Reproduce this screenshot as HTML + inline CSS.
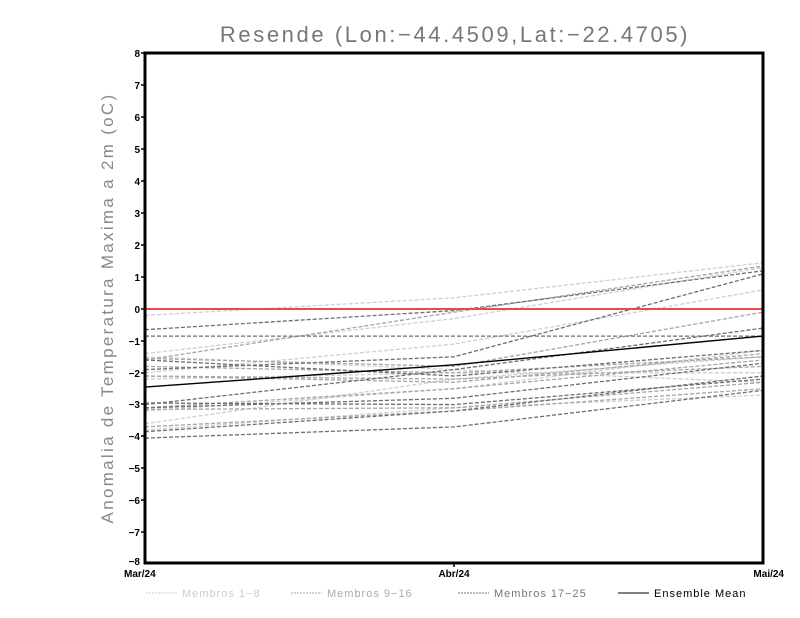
<!DOCTYPE html>
<html><head><meta charset="utf-8"><style>
html,body{margin:0;padding:0;background:#fff}
svg{display:block}
.t{font-family:"Liberation Sans",sans-serif;font-weight:bold;font-size:10px;fill:#000}
</style></head><body>
<svg width="800" height="618" viewBox="0 0 800 618">
<rect width="800" height="618" fill="#fff"/>
<text x="455" y="42" text-anchor="middle" font-family="Liberation Sans, sans-serif" font-size="22" fill="#777" letter-spacing="2.6">Resende (Lon:−44.4509,Lat:−22.4705)</text>
<text transform="translate(113,308) rotate(-90)" text-anchor="middle" font-family="Liberation Sans, sans-serif" font-size="17" fill="#888" letter-spacing="2.3">Anomalia de Temperatura Maxima a 2m (oC)</text>
<g fill="none" stroke-width="1.3" stroke-dasharray="4,2">
<g stroke="#cfcfcf">
<polyline points="145,315.4 454,297.8 763,262.8"/>
<polyline points="145,353.6 454,318.6 763,267.6"/>
<polyline points="145,372.8 454,344.1 763,289.9"/>
<polyline points="145,411 454,388.7 763,350.4"/>
<polyline points="145,423.8 454,379.1 763,356.8"/>
<polyline points="145,379.1 454,372.8 763,372.8"/>
<polyline points="145,430.1 454,407.8 763,395.1"/>
<polyline points="145,356.8 454,369.6 763,382.3"/>
</g>
<g stroke="#a5a5a5">
<polyline points="145,360 454,312.2 763,266"/>
<polyline points="145,358.4 454,366.4 763,312.2"/>
<polyline points="145,376 454,379.1 763,366.4"/>
<polyline points="145,407.8 454,388.7 763,360"/>
<polyline points="145,409.4 454,407.8 763,382.3"/>
<polyline points="145,376 454,382.3 763,353.6"/>
<polyline points="145,426.9 454,411 763,388.7"/>
<polyline points="145,366.4 454,372.8 763,356.8"/>
</g>
<g stroke="#6e6e6e">
<polyline points="145,329.7 454,310.6 763,270.8"/>
<polyline points="145,336.1 454,336.1 763,336.1"/>
<polyline points="145,404.6 454,369.6 763,328.1"/>
<polyline points="145,369.6 454,356.8 763,273.9"/>
<polyline points="145,403 454,404.6 763,379.1"/>
<polyline points="145,431.7 454,411 763,376"/>
<polyline points="145,438.1 454,426.9 763,390.3"/>
<polyline points="145,360 454,376 763,350.4"/>
<polyline points="145,407.8 454,398.3 763,363.2"/>
</g>
</g>
<line x1="145" y1="309" x2="763" y2="309" stroke="#f04848" stroke-width="2"/>
<polyline points="145,387.1 454,364.8 763,336.1" fill="none" stroke="#000" stroke-width="1.4"/>
<rect x="145" y="53" width="618" height="510" fill="none" stroke="#000" stroke-width="3"/>
<g stroke="#000" stroke-width="1.5">
<line x1="141" y1="53" x2="145" y2="53"/><line x1="141" y1="85" x2="145" y2="85"/><line x1="141" y1="117" x2="145" y2="117"/><line x1="141" y1="149" x2="145" y2="149"/><line x1="141" y1="181" x2="145" y2="181"/><line x1="141" y1="213" x2="145" y2="213"/><line x1="141" y1="245" x2="145" y2="245"/><line x1="141" y1="277" x2="145" y2="277"/><line x1="141" y1="309" x2="145" y2="309"/><line x1="141" y1="341" x2="145" y2="341"/><line x1="141" y1="373" x2="145" y2="373"/><line x1="141" y1="404" x2="145" y2="404"/><line x1="141" y1="436" x2="145" y2="436"/><line x1="141" y1="468" x2="145" y2="468"/><line x1="141" y1="500" x2="145" y2="500"/><line x1="141" y1="532" x2="145" y2="532"/>
<line x1="454" y1="563" x2="454" y2="567"/>
</g>
<g class="t" text-anchor="end">
<text x="140" y="57">8</text><text x="140" y="89">7</text><text x="140" y="121">6</text><text x="140" y="153">5</text><text x="140" y="185">4</text><text x="140" y="217">3</text><text x="140" y="249">2</text><text x="140" y="281">1</text><text x="140" y="313">0</text><text x="140" y="345">−1</text><text x="140" y="377">−2</text><text x="140" y="408">−3</text><text x="140" y="440">−4</text><text x="140" y="472">−5</text><text x="140" y="504">−6</text><text x="140" y="536">−7</text><text x="140" y="565">−8</text>
</g>
<g class="t">
<text x="124" y="577">Mar/24</text>
<text x="454" y="577" text-anchor="middle">Abr/24</text>
<text x="784" y="577" text-anchor="end">Mai/24</text>
</g>
<g font-family="Liberation Sans, sans-serif" font-size="11" letter-spacing="1">
<line x1="146" y1="593" x2="177" y2="593" stroke="#ccc" stroke-dasharray="2,1"/>
<text x="182" y="597" fill="#ccc">Membros 1−8</text>
<line x1="291" y1="593" x2="322" y2="593" stroke="#aaa" stroke-dasharray="2,1"/>
<text x="327" y="597" fill="#aaa">Membros 9−16</text>
<line x1="458" y1="593" x2="489" y2="593" stroke="#777" stroke-dasharray="2,1"/>
<text x="494" y="597" fill="#777">Membros 17−25</text>
<line x1="618" y1="593" x2="649" y2="593" stroke="#000"/>
<text x="654" y="597" fill="#000">Ensemble Mean</text>
</g>
</svg>
</body></html>
